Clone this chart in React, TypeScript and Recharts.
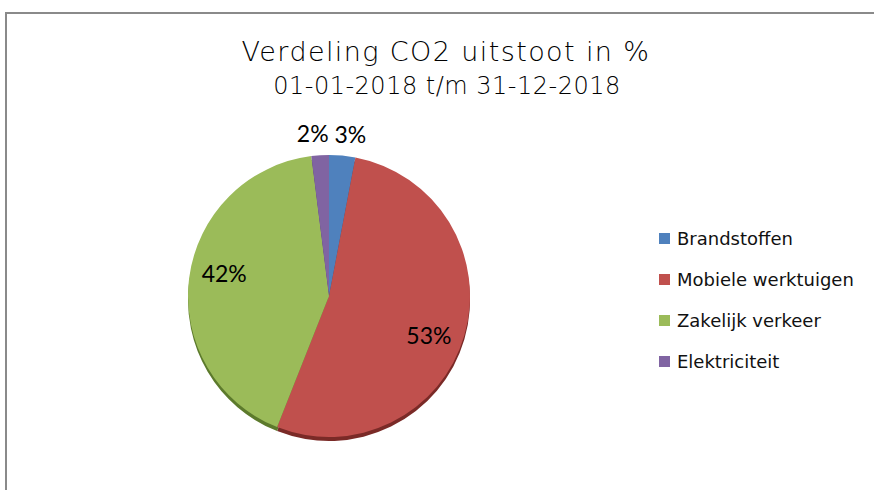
import { PieChart, Pie, Cell, Legend } from 'recharts'

const categories = ['Brandstoffen', 'Mobiele werktuigen', 'Zakelijk verkeer', 'Elektriciteit']
const shares = [3, 53, 42, 2]
const colors = ['#4f81bd', '#c0504d', '#9bbb59', '#8064a2']
const shadowColors = ['#2f5584', '#7a2a27', '#5c7a2c', '#4f3a6a']

const data = categories.map((name, i) => ({ name, value: shares[i] }))

const RADIAN = Math.PI / 180

function renderLabel(props: any) {
  const { cx, cy, midAngle, outerRadius, percent, value } = props
  const small = percent < 0.05
  const r = small ? outerRadius + 22 : outerRadius * 0.76
  // Excel's best-fit labels sit a little further clockwise than the slice middle
  const angle = small ? midAngle : midAngle - 5
  const x = cx + r * Math.cos(-angle * RADIAN)
  const y = cy + r * Math.sin(-angle * RADIAN)
  const dx = small ? (x < cx ? -6 : 6) : 0
  return (
    <text
      x={x + dx}
      y={y}
      textAnchor="middle"
      dominantBaseline="central"
      fill="#000"
      fontSize={23}
      fontFamily="Lato, sans-serif"
    >
      {`${value}%`}
    </text>
  )
}

function renderLegend() {
  return (
    <div style={{ fontFamily: '"DejaVu Sans", sans-serif', fontSize: 18, color: '#111' }}>
      {categories.map((name, i) => (
        <div key={name} style={{ display: 'flex', alignItems: 'center', height: 41 }}>
          <span style={{ width: 11, height: 11, background: colors[i], marginRight: 7, display: 'inline-block' }} />
          <span>{name}</span>
        </div>
      ))}
    </div>
  )
}

export default function App() {
  return (
    <div style={{ position: 'absolute', left: 0, top: 0, width: 874, height: 490, background: '#fff', overflow: 'hidden' }}>
      <div
        style={{
          position: 'absolute',
          left: 5,
          top: 12,
          width: 900,
          height: 500,
          border: '2px solid #8a8a8a',
        }}
      />
      <div
        style={{
          position: 'absolute',
          left: 0,
          width: 892,
          top: 37,
          textAlign: 'center',
          fontFamily: '"DejaVu Sans", sans-serif',
          fontWeight: 200,
          fontSize: 27,
          letterSpacing: 1.4,
          color: '#000',
          lineHeight: '30px',
        }}
      >
        Verdeling CO2 uitstoot in %
      </div>
      <div
        style={{
          position: 'absolute',
          left: 0,
          width: 894,
          top: 71,
          textAlign: 'center',
          fontFamily: '"DejaVu Sans", sans-serif',
          fontWeight: 200,
          fontSize: 24,
          letterSpacing: 0.5,
          color: '#000',
          lineHeight: '30px',
        }}
      >
        01-01-2018 t/m 31-12-2018
      </div>
      <PieChart
        width={874}
        height={490}
        margin={{ top: 0, right: 0, bottom: 0, left: 0 }}
        style={{ position: 'absolute', left: 0, top: 0 }}
      >
        <Pie
          data={data}
          dataKey="value"
          cx={329}
          cy={300}
          outerRadius={141}
          startAngle={90}
          endAngle={-270}
          stroke="none"
          isAnimationActive={false}
          legendType="none"
        >
          {data.map((d, i) => (
            <Cell key={d.name} fill={shadowColors[i]} />
          ))}
        </Pie>
        <Pie
          data={data}
          dataKey="value"
          cx={329}
          cy={296}
          outerRadius={141}
          startAngle={90}
          endAngle={-270}
          stroke="none"
          label={renderLabel}
          labelLine={false}
          isAnimationActive={false}
        >
          {data.map((d, i) => (
            <Cell key={d.name} fill={colors[i]} />
          ))}
        </Pie>
        <Legend
          layout="vertical"
          content={renderLegend}
          wrapperStyle={{ position: 'absolute', left: 659, top: 218, width: 215 }}
        />
      </PieChart>
    </div>
  )
}
